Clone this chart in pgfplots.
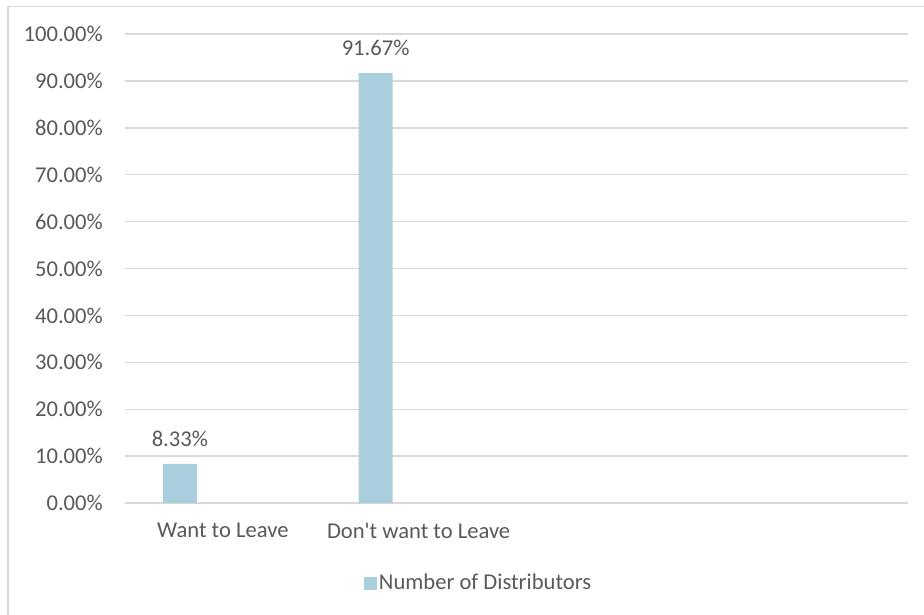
\documentclass[border=0pt]{standalone}
\usepackage{pgfplots}
\pgfplotsset{compat=1.18}
\usepackage{fontspec}
\setmainfont{Carlito}[Ligatures=TeXOff]
\definecolor{txt}{HTML}{595959}
\definecolor{gridc}{HTML}{D9D9D9}
\definecolor{barc}{HTML}{A9CEDC}
\newcommand{\chf}{\fontsize{22.6pt}{27pt}\selectfont}
\begin{document}
\chf
\begin{tikzpicture}[font=\chf]
\path[use as bounding box] (0pt,0pt) rectangle (924pt,-615pt);
\draw[gridc, line width=1.5pt] (8pt,-615pt) -- (8pt,-6.5pt) -- (924pt,-6.5pt);
\begin{axis}[
  at={(125pt,-503pt)}, anchor=south west,
  scale only axis, width=783pt, height=469pt,
  ybar, bar width=34pt, bar shift=-43pt,
  xmin=-0.5, xmax=3.5, ymin=0, ymax=100,
  xtick={0,1}, xticklabels={Want to Leave, Don't want to Leave},
  ytick={0,10,...,100},
  yticklabel={\pgfmathprintnumber[fixed,fixed zerofill,precision=2]{\tick}\%},
  /pgf/number format/assume math mode=true,
  major tick length=0pt,
  axis line style={draw=none},
  ymajorgrids, major grid style={gridc, line width=1.4pt},
  every tick label/.append style={inner sep=0pt, text=txt, font=\chf},
  yticklabel style={xshift=-22pt},
  xticklabel style={yshift=-20pt},
  nodes near coords={\pgfmathprintnumber[fixed,fixed zerofill,precision=2]{\pgfplotspointmeta}\%},
  nodes near coords style={anchor=center, yshift=25pt, inner sep=0pt, text=txt, font=\chf},
  legend style={draw=none, fill=none, at={(0.4515,-0.1706)}, anchor=center, text=txt, font=\chf},
  legend image code/.code={\fill[#1] (-4pt,-6.5pt) rectangle (9pt,6.5pt);},
]
\addplot[fill=barc, draw=none] coordinates {(0,8.33) (1,91.67)};
\addlegendentry{Number of Distributors}
\end{axis}
\end{tikzpicture}
\end{document}
